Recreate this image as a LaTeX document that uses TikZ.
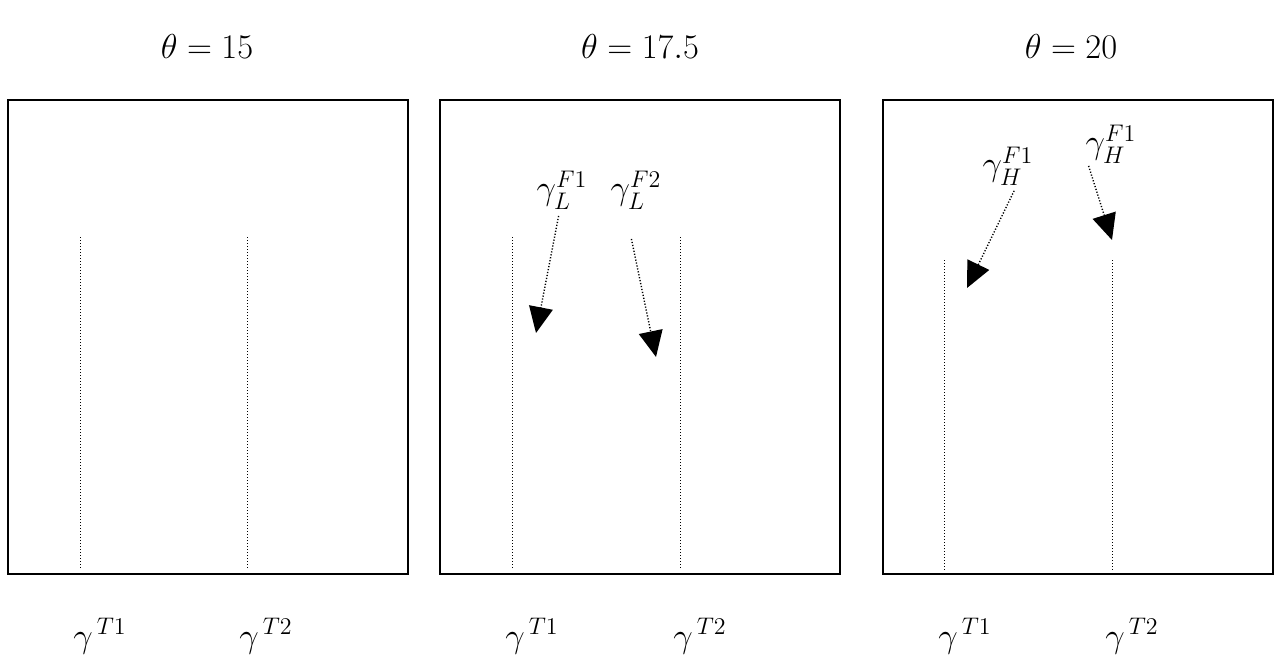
\documentclass[tikz,border=0pt]{standalone}
\usepackage{tikz}
\usepackage{amsmath}
\usetikzlibrary{arrows.meta, positioning, calc}
\tikzset{
  % Panel frame
  Frame/.style={draw=black,line width=0.8pt},
  % Dotted vertical level
  Lvl/.style={draw=black,line width=0.5pt,dash pattern=on 0.5pt off 1pt},
  % Dotted pointer with big filled tip
  Ptr/.style={-{Triangle[length=13pt,width=12pt]},line width=0.7pt,
              dash pattern=on 0.6pt off 0.9pt,shorten <=1pt},
  % Text labels
  Lbl/.style={font=\fontsize{17}{20}\selectfont,inner sep=1pt},
}
\begin{document}
\begin{tikzpicture}[x=0.5pt,y=-0.5pt]
  \useasboundingbox (0,0) rectangle (1281,666);
  % Titles
  \node[Lbl] at (207,46)  (t1) {$\theta = 15$};
  \node[Lbl] at (640,46)  (t2) {$\theta = 17.5$};
  \node[Lbl] at (1071,46) (t3) {$\theta = 20$};
  % Three frames
  \draw[Frame] (8,100)   rectangle (408,574);
  \draw[Frame] (440,100) rectangle (840,574);
  \draw[Frame] (883,100) rectangle (1273,574);
  % Dotted levels -- panel 1 and 2
  \foreach \x/\n in {80/a,247/b,512/c,680/d}{
    \coordinate (\n top) at (\x,237);
    \coordinate (\n bot) at (\x,570);
    \draw[Lvl] (\n top) -- (\n bot);
  }
  % Dotted levels -- panel 3 (lower start)
  \foreach \x/\n in {944/e,1112/f}{
    \coordinate (\n top) at (\x,260);
    \coordinate (\n bot) at (\x,570);
    \draw[Lvl] (\n top) -- (\n bot);
  }
  % Bottom labels
  \node[Lbl] at (100,636)  (ga1) {$\gamma^{\,T1}$};
  \node[Lbl] at (266,636)  (ga2) {$\gamma^{\,T2}$};
  \node[Lbl] at (532,636)  (gb1) {$\gamma^{\,T1}$};
  \node[Lbl] at (700,636)  (gb2) {$\gamma^{\,T2}$};
  \node[Lbl] at (965,636)  (gc1) {$\gamma^{\,T1}$};
  \node[Lbl] at (1132,636) (gc2) {$\gamma^{\,T2}$};
  % Panel 2 pointers
  \node[Lbl] at (562,190) (lf1) {$\gamma_L^{F1}$};
  \node[Lbl] at (636,190) (lf2) {$\gamma_L^{F2}$};
  \coordinate (lf1s) at (559,214);
  \coordinate (lf1e) at (536,333);
  \coordinate (lf2s) at (631,237);
  \coordinate (lf2e) at (656,357);
  \draw[Ptr] (lf1s) -- (lf1e);
  \draw[Ptr] (lf2s) -- (lf2e);
  % Panel 3 pointers
  \node[Lbl] at (1008,166) (hf1) {$\gamma_H^{F1}$};
  \node[Lbl] at (1111,144) (hf2) {$\gamma_H^{F1}$};
  \coordinate (hf1s) at (1015,189);
  \coordinate (hf1e) at (967,288);
  \coordinate (hf2s) at (1088,164);
  \coordinate (hf2e) at (1112,240);
  \draw[Ptr] (hf1s) -- (hf1e);
  \draw[Ptr] (hf2s) -- (hf2e);
\end{tikzpicture}
\end{document}
